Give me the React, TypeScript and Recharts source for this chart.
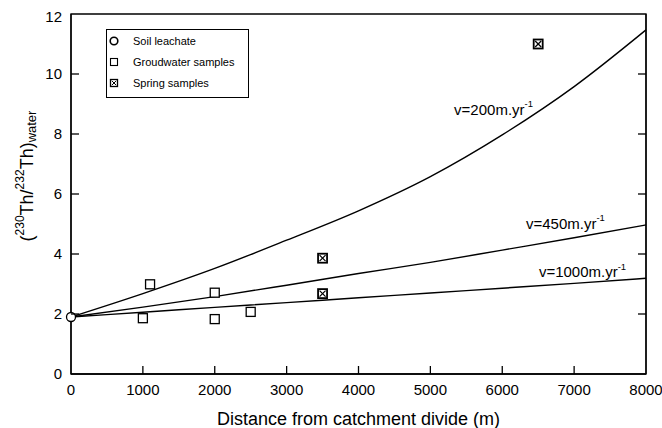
import {
  ComposedChart,
  Legend,
  Line,
  ReferenceArea,
  ReferenceDot,
  Scatter,
  XAxis,
  YAxis,
} from 'recharts';

// distances (m) at which the model curves were read
const distances = [0, 1000, 2000, 3000, 4000, 5000, 6000, 7000, 8000];
const curveV200 = [1.9, 2.68, 3.52, 4.46, 5.44, 6.58, 7.97, 9.58, 11.47];
const curveV450 = [1.9, 2.23, 2.58, 2.96, 3.35, 3.72, 4.13, 4.54, 4.97];
const curveV1000 = [1.9, 2.06, 2.22, 2.38, 2.54, 2.7, 2.86, 3.02, 3.19];

const soilLeachate = [{ x: 0, y: 1.9 }];
const groundwaterSamples = [
  { x: 1000, y: 1.86 },
  { x: 1100, y: 2.99 },
  { x: 2000, y: 2.71 },
  { x: 2000, y: 1.83 },
  { x: 2500, y: 2.07 },
];
const springSamples = [
  { x: 3500, y: 3.86 },
  { x: 3500, y: 2.68 },
  { x: 6500, y: 11.0 },
];

const xTicks = [0, 1000, 2000, 3000, 4000, 5000, 6000, 7000, 8000];
const yTicks = [0, 2, 4, 6, 8, 10, 12];

// where the velocity labels sit, in data units
const curveLabels = [
  { text: 'v=200m.yr', x: 5330, y: 8.83 },
  { text: 'v=450m.yr', x: 6330, y: 5.03 },
  { text: 'v=1000m.yr', x: 6510, y: 3.41 },
];

const FONT = '"Liberation Sans", Arial, Helvetica, sans-serif';
const TICK_LEN = 8;
const X_GAP = 10;
const Y_GAP = 9;

const toPoints = (values: number[]) => distances.map((x, i) => ({ x, y: values[i] }));

// ticks drawn inward, label outside
const XTick = (props: any) => {
  const { x, y, payload } = props;
  const axisY = y - X_GAP;
  return (
    <g>
      {payload.value > 0 && payload.value < 8000 && (
        <line x1={x} y1={axisY} x2={x} y2={axisY - TICK_LEN} stroke="#000" strokeWidth={1.3} />
      )}
      <text x={x} y={y} dy="0.71em" textAnchor="middle" fontSize={15} fontFamily={FONT} fill="#000">
        {payload.value}
      </text>
    </g>
  );
};

const YTickLeft = (props: any) => {
  const { x, y, payload } = props;
  const axisX = x + Y_GAP;
  return (
    <g>
      {payload.value > 0 && payload.value < 12 && (
        <line x1={axisX} y1={y} x2={axisX + TICK_LEN} y2={y} stroke="#000" strokeWidth={1.3} />
      )}
      <text x={x} y={y} dy="0.355em" textAnchor="end" fontSize={15} fontFamily={FONT} fill="#000">
        {payload.value}
      </text>
    </g>
  );
};

const YTickRight = (props: any) => {
  const { x, y, payload } = props;
  if (payload.value <= 0 || payload.value >= 12) return <g />;
  return <line x1={x} y1={y} x2={x - TICK_LEN} y2={y} stroke="#000" strokeWidth={1.3} />;
};

const SquareShape = (props: any) => {
  const { cx, cy } = props;
  const s = 9;
  return (
    <rect x={cx - s / 2} y={cy - s / 2} width={s} height={s} fill="#fff" stroke="#000" strokeWidth={1.3} />
  );
};

const CrossSquareShape = (props: any) => {
  const { cx, cy } = props;
  const h = 4.5;
  return (
    <g>
      <rect x={cx - h} y={cy - h} width={h * 2} height={h * 2} fill="#fff" stroke="#000" strokeWidth={1.8} />
      <line x1={cx - h + 1.5} y1={cy - h + 1.5} x2={cx + h - 1.5} y2={cy + h - 1.5} stroke="#000" strokeWidth={1.2} />
      <line x1={cx - h + 1.5} y1={cy + h - 1.5} x2={cx + h - 1.5} y2={cy - h + 1.5} stroke="#000" strokeWidth={1.2} />
    </g>
  );
};

const CircleShape = (props: any) => {
  const { cx, cy } = props;
  return <circle cx={cx} cy={cy} r={4.5} fill="#fff" stroke="#000" strokeWidth={1.3} />;
};

const legendRows = [
  { name: 'Soil leachate', kind: 'circle' },
  { name: 'Groudwater samples', kind: 'square' },
  { name: 'Spring samples', kind: 'cross' },
];

const LegendIcon = ({ kind }: { kind: string }) => (
  <svg width={10} height={10} style={{ display: 'block' }}>
    {kind === 'circle' && <circle cx={5} cy={5} r={3.8} fill="#fff" stroke="#000" strokeWidth={1.6} />}
    {kind === 'square' && <rect x={1.5} y={1.5} width={7} height={7} fill="#fff" stroke="#000" strokeWidth={1.1} />}
    {kind === 'cross' && (
      <g>
        <rect x={1.5} y={1.5} width={7} height={7} fill="#fff" stroke="#000" strokeWidth={1.3} />
        <line x1={2.8} y1={2.8} x2={7.2} y2={7.2} stroke="#000" strokeWidth={1} />
        <line x1={2.8} y1={7.2} x2={7.2} y2={2.8} stroke="#000" strokeWidth={1} />
      </g>
    )}
  </svg>
);

const LegendBox = () => (
  <div
    style={{
      border: '1px solid #000',
      background: '#fff',
      height: 69,
      boxSizing: 'border-box',
      paddingTop: 1,
      fontFamily: FONT,
      fontSize: 11,
    }}
  >
    {legendRows.map(r => (
      <div key={r.name} style={{ display: 'flex', alignItems: 'center', height: 20.8 }}>
        <div style={{ width: 26, paddingLeft: 2, boxSizing: 'border-box' }}>
          <LegendIcon kind={r.kind} />
        </div>
        <span>{r.name}</span>
      </div>
    ))}
  </div>
);

const CurveLabel = (text: string) => (props: any) => (
  <text x={props.cx} y={props.cy} dominantBaseline="central" fontSize={15} fontFamily={FONT} fill="#000">
    {text}
    <tspan dy={-6} fontSize={9.5}>-1</tspan>
  </text>
);

const YTitle = () => (
  <text
    x={25}
    y={168}
    transform="rotate(-90, 25, 168)"
    textAnchor="middle"
    fontSize={18}
    fontFamily={FONT}
    fill="#000"
  >
    (
    <tspan dy={-9} fontSize={12}>230</tspan>
    <tspan dy={9}>Th/</tspan>
    <tspan dy={-9} fontSize={12}>232</tspan>
    <tspan dy={9}>Th)</tspan>
    <tspan dy={3} fontSize={13}>water</tspan>
  </text>
);

export default function App() {
  return (
    <div style={{ position: 'absolute', left: 8, top: 8, width: 654, height: 420, fontFamily: FONT }}>
      <ComposedChart width={654} height={420} margin={{ top: 6, right: 8, bottom: 0, left: 0 }}>
        <XAxis
          type="number"
          dataKey="x"
          domain={[0, 8000]}
          ticks={xTicks}
          height={54}
          tickLine={false}
          tickSize={0}
          tickMargin={X_GAP}
          tick={<XTick />}
          stroke="#000"
          strokeWidth={1.3}
          label={{
            value: 'Distance from catchment divide (m)',
            position: 'insideBottom',
            offset: 3,
            style: { fontSize: 18, fill: '#000', fontFamily: FONT },
          }}
        />
        <YAxis
          yAxisId="left"
          type="number"
          dataKey="y"
          domain={[0, 12]}
          ticks={yTicks}
          width={63}
          tickLine={false}
          tickSize={0}
          tickMargin={Y_GAP}
          tick={<YTickLeft />}
          stroke="#000"
          strokeWidth={1.3}
          label={<YTitle />}
        />
        <YAxis
          yAxisId="right"
          orientation="right"
          type="number"
          domain={[0, 12]}
          ticks={yTicks}
          allowDataOverflow
          width={8}
          tickLine={false}
          tickSize={0}
          tickMargin={0}
          tick={<YTickRight />}
          stroke="#000"
          strokeWidth={1.3}
        />
        <ReferenceArea
          yAxisId="left"
          x1={0}
          x2={8000}
          y1={0}
          y2={12}
          fill="none"
          stroke="#000"
          strokeWidth={1.3}
          fillOpacity={0}
        />
        <Line yAxisId="left" data={toPoints(curveV200)} dataKey="y" type="monotone" stroke="#000" strokeWidth={1.4} dot={false} isAnimationActive={false} legendType="none" />
        <Line yAxisId="left" data={toPoints(curveV450)} dataKey="y" type="monotone" stroke="#000" strokeWidth={1.4} dot={false} isAnimationActive={false} legendType="none" />
        <Line yAxisId="left" data={toPoints(curveV1000)} dataKey="y" type="monotone" stroke="#000" strokeWidth={1.4} dot={false} isAnimationActive={false} legendType="none" />
        <Scatter yAxisId="left" name="Groudwater samples" data={groundwaterSamples} shape={SquareShape} isAnimationActive={false} />
        <Scatter yAxisId="left" name="Spring samples" data={springSamples} shape={CrossSquareShape} isAnimationActive={false} />
        <Scatter yAxisId="left" name="Soil leachate" data={soilLeachate} shape={CircleShape} isAnimationActive={false} />
        {curveLabels.map(l => (
          <ReferenceDot key={l.text} yAxisId="left" x={l.x} y={l.y} r={0} shape={CurveLabel(l.text)} />
        ))}
        <Legend
          layout="vertical"
          align="center"
          verticalAlign="middle"
          wrapperStyle={{ left: 98, top: 21, width: 143 }}
          content={() => <LegendBox />}
        />
      </ComposedChart>
    </div>
  );
}
